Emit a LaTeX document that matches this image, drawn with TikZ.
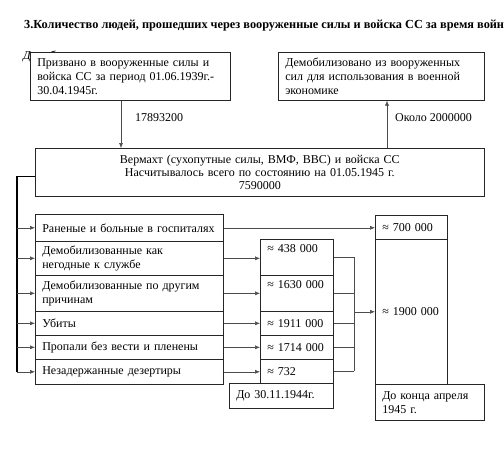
\documentclass[tikz,border=0pt]{standalone}
\usepackage{fontspec}
\setmainfont{Liberation Serif}
\usetikzlibrary{arrows.meta}
\begin{document}
\begin{tikzpicture}[x=1pt,y=-1pt,
  box/.style={draw=black!85, line width=0.6pt, fill=white, anchor=north west, inner xsep=7pt, inner ysep=0pt, align=left, font=\fontsize{12}{14}\selectfont},
  conn/.style={draw=black!70, line width=0.5pt},
  arr/.style={conn, -{Latex[length=5pt,width=4pt]}},
  trunk/.style={draw=black, line width=1.5pt},
  txt/.style={font=\fontsize{12}{14}\selectfont, inner sep=0pt}]
\useasboundingbox (0,0) rectangle (504,463);
\clip (0,0) rectangle (504,463);
\fill[white] (0,0) rectangle (504,463);
% title
\node[anchor=base west, inner sep=0pt, font=\bfseries\fontsize{12.3}{14}\selectfont] (title) at (24,28) {3.Количество людей, прошедших через вооруженные силы и войска СС за время войны};
\node[anchor=base west, inner sep=0pt, font=\itshape\fontsize{12}{14}\selectfont] (hid) at (23,59.5) {Демобилизовано};
% top boxes
\node[box, minimum width=200, minimum height=48, text width=186] (B1) at (30,52) {Призвано в вооруженные силы и\\войска СС за период 01.06.1939г.-\\30.04.1945г.};
\node[box, minimum width=206, minimum height=48, text width=192] (B2) at (278,52) {Демобилизовано из вооруженных\\сил для использования в военной\\экономике};
\node[box, minimum width=449, minimum height=48, text width=435, align=center, font=\fontsize{12}{13}\selectfont] (B3) at (35,148) {Вермахт (сухопутные силы, ВМФ, ВВС) и войска СС\\Насчитывалось всего по состоянию на 01.05.1945 г.\\7590000};
% left column
\node[box, minimum width=188, minimum height=27, text width=174] (L1) at (35,214) {Раненые и больные в госпиталях};
\node[box, minimum width=188, minimum height=34, text width=174] (L2) at (35,241) {Демобилизованные как\\негодные к службе};
\node[box, minimum width=188, minimum height=36, text width=174] (L3) at (35,275) {Демобилизованные по~другим\\причинам};
\node[box, minimum width=188, minimum height=24, text width=174] (L4) at (35,311) {Убиты};
\node[box, minimum width=188, minimum height=24, text width=174] (L5) at (35,335) {Пропали без вести и пленены};
\node[box, minimum width=188, minimum height=25, text width=174] (L6) at (35,359) {Незадержанные дезертиры};
% middle column
\node[box, minimum width=73, minimum height=36, text width=59] (M1) at (260,239) {≈~438~000\\\strut};
\node[box, minimum width=73, minimum height=36, text width=59] (M2) at (260,275) {≈~1630~000\\\strut};
\node[box, minimum width=73, minimum height=24, text width=59] (M3) at (260,311) {≈~1911~000};
\node[box, minimum width=73, minimum height=24, text width=59] (M4) at (260,335) {≈~1714~000};
\node[box, minimum width=73, minimum height=24, text width=59] (M5) at (260,359) {≈~732};
\node[box, minimum width=104, minimum height=25, text width=90] (M6) at (229,383) {До 30.11.1944г.};
% right column
\node[box, minimum width=72, minimum height=24, text width=58] (R1) at (375,215) {≈~700~000};
\node[box, minimum width=72, minimum height=145, text width=58] (R2) at (375,239) {≈~1900~000};
\node[box, minimum width=109, minimum height=36, text width=95] (R3) at (375,384) {До конца апреля\\1945 г.};
% vertical connectors
\coordinate (xa) at (121,0);
\coordinate (xb) at (387,0);
\draw[arr] (xa |- B1.south) -- (xa |- B3.north);
\draw[arr] (xb |- B3.north) -- (xb |- B2.south);
\node[txt, anchor=west] (lab1) at (135,118) {17893200};
\node[txt, anchor=west] (lab2) at (395,118) {Около 2000000};
% trunk
\coordinate (tr) at (17,0);
\draw[trunk] ([yshift=-4pt]B3.west) -| (tr |- L6.west);
\foreach \n in {L1,L2,L3,L4,L5,L6} \draw[arr] (tr |- \n.west) -- (\n.west);
% left to middle / right
\draw[arr] (L1.east) -- (R1.west |- L1.east);
\draw[arr] (L2.east) -- (M1.west |- L2.east);
\draw[arr] (L3.east) -- (M2.west |- L3.east);
\draw[arr] (L4.east) -- (M3.west |- L4.east);
\draw[arr] (L5.east) -- (M4.west |- L5.east);
\draw[arr] (L6.east) -- (M5.west |- L6.east);
% merge
\coordinate (xm) at (354,0);
\foreach \n in {M1,M2,M3,M4,M5} \draw[conn] (\n.east) -- (xm |- \n.east);
\draw[conn] (xm |- M1.east) -- (xm |- M5.east);
\draw[arr] (xm |- R2.west) -- (R2.west);
\end{tikzpicture}
\end{document}
